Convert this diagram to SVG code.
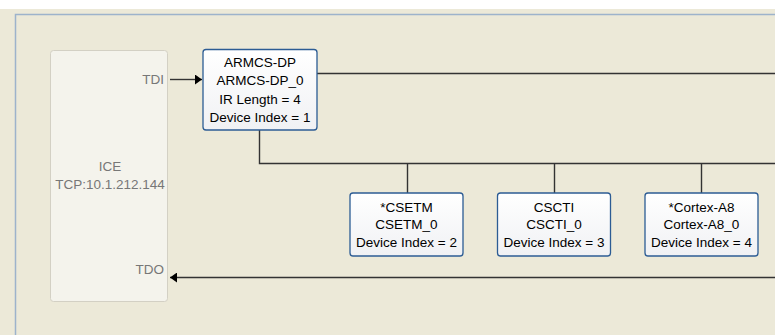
<svg xmlns="http://www.w3.org/2000/svg" width="775" height="335" viewBox="0 0 775 335">
<style>
.ice{fill:#f4f3ec;stroke:#d3d0c4;stroke-width:1}
.node{fill:url(#g);stroke:#2c5c94;stroke-width:1.3}
.t{font-family:"Liberation Sans",Arial,sans-serif;font-size:13.5px;fill:#000;text-anchor:middle}
.gt{font-family:"Liberation Sans",Arial,sans-serif;font-size:13.5px;fill:#777;}
.w{fill:none;stroke:#333;stroke-width:1.4}
</style>
<defs>
<linearGradient id="g" x1="0" y1="0" x2="0" y2="1">
<stop offset="0" stop-color="#ffffff"/>
<stop offset="1" stop-color="#f0f1f4"/>
</linearGradient>
<marker id="ah" markerWidth="8" markerHeight="10" refX="7" refY="5" orient="auto" markerUnits="userSpaceOnUse">
<path d="M0,0 L7,5 L0,10 Z" fill="#000"/>
</marker>
</defs>
<rect x="0" y="0" width="775" height="335" fill="#ffffff"/>
<rect x="0" y="9" width="775" height="326" fill="#ece9d8"/>
<path d="M15.5,335 V14.5 H775" fill="none" stroke="#9db3cb" stroke-width="1.5"/>
<g id="ice">
<rect class="ice" x="50.5" y="50.5" width="117" height="251" rx="3"/>
<text class="gt" x="110" y="171" text-anchor="middle">ICE</text>
<text class="gt" x="110" y="189" text-anchor="middle">TCP:10.1.212.144</text>
<text class="gt" x="164" y="84" text-anchor="end">TDI</text>
<text class="gt" x="164" y="274" text-anchor="end">TDO</text>
</g>
<g id="connectors">
<line class="w" x1="170" y1="79.5" x2="202" y2="79.5" marker-end="url(#ah)"/>
<line class="w" x1="317" y1="73.5" x2="775" y2="73.5"/>
<polyline class="w" points="259.5,130 259.5,163.5 775,163.5"/>
<line class="w" x1="407.5" y1="163.5" x2="407.5" y2="193"/>
<line class="w" x1="554.5" y1="163.5" x2="554.5" y2="193"/>
<line class="w" x1="701.5" y1="163.5" x2="701.5" y2="193"/>
<line class="w" x1="775" y1="277.5" x2="170" y2="277.5" marker-end="url(#ah)"/>
</g>
<g id="armcs-dp">
<rect class="node" x="203" y="49.5" width="114" height="80.5" rx="3"/>
<text class="t" x="260" y="66.5">ARMCS-DP</text>
<text class="t" x="260" y="85">ARMCS-DP_0</text>
<text class="t" x="260" y="103.5">IR Length = 4</text>
<text class="t" x="260" y="122">Device Index = 1</text>
</g>
<g id="csetm">
<rect class="node" x="350" y="193" width="113" height="63" rx="3"/>
<text class="t" x="406.5" y="212">*CSETM</text>
<text class="t" x="406.5" y="229">CSETM_0</text>
<text class="t" x="406.5" y="246.5">Device Index = 2</text>
</g>
<g id="cscti">
<rect class="node" x="497.5" y="193" width="113" height="63" rx="3"/>
<text class="t" x="554" y="212">CSCTI</text>
<text class="t" x="554" y="229">CSCTI_0</text>
<text class="t" x="554" y="246.5">Device Index = 3</text>
</g>
<g id="cortex-a8">
<rect class="node" x="645" y="193" width="113" height="63" rx="3"/>
<text class="t" x="701.5" y="212">*Cortex-A8</text>
<text class="t" x="701.5" y="229">Cortex-A8_0</text>
<text class="t" x="701.5" y="246.5">Device Index = 4</text>
</g>
</svg>
